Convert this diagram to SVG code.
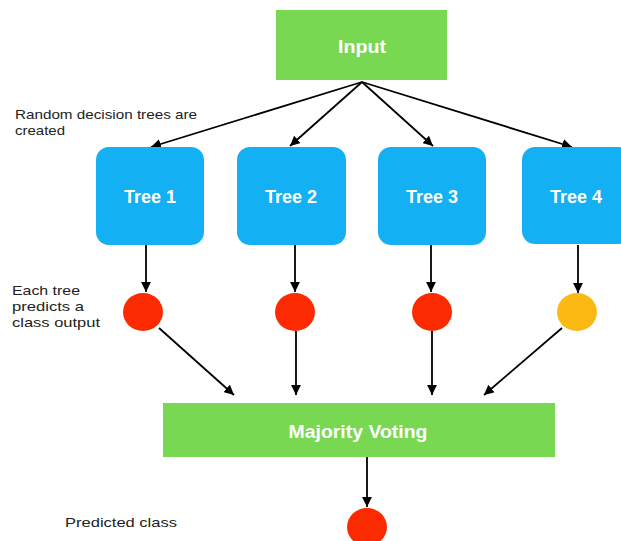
<svg xmlns="http://www.w3.org/2000/svg" width="621" height="541" viewBox="0 0 621 541">
<style>
.green{fill:#78d852}
.blue{fill:#13b0f3}
.red{fill:#fb2a00}
.yellow{fill:#fdb913}
.nt{font-family:"Liberation Sans",Arial,sans-serif;font-weight:bold;fill:#fff;text-anchor:middle}
.lbl{font-family:"Liberation Sans",Arial,sans-serif;font-size:13.5px;fill:#222}
.ln{stroke:#000;stroke-width:1.8;fill:none;marker-end:url(#ah)}
</style>
<defs>
<marker id="ah" viewBox="0 0 10 10" refX="10" refY="5" markerWidth="5.5" markerHeight="5.5" orient="auto" markerUnits="strokeWidth">
<path d="M0,0 L10,5 L0,10 z" fill="#000"/>
</marker>
</defs>
<rect width="621" height="541" fill="#fff"/>
<g id="connectors">
<line class="ln" x1="362" y1="82" x2="151" y2="147"/>
<line class="ln" x1="362" y1="82" x2="290" y2="146"/>
<line class="ln" x1="362" y1="82" x2="433" y2="146"/>
<line class="ln" x1="362" y1="82" x2="572" y2="147"/>
<line class="ln" x1="146" y1="245" x2="146" y2="292"/>
<line class="ln" x1="295" y1="245" x2="295" y2="292"/>
<line class="ln" x1="431" y1="245" x2="431" y2="292"/>
<line class="ln" x1="578" y1="245" x2="578" y2="293"/>
<line class="ln" x1="159" y1="328" x2="234" y2="395"/>
<line class="ln" x1="296" y1="331" x2="296" y2="395"/>
<line class="ln" x1="432" y1="331" x2="432" y2="395"/>
<line class="ln" x1="562" y1="328" x2="484" y2="395"/>
<line class="ln" x1="367" y1="457" x2="367" y2="507"/>
</g>
<g id="input">
<rect class="green" x="276" y="10" width="171" height="70"/>
<text class="nt" x="362" y="53" font-size="18" textLength="48" lengthAdjust="spacingAndGlyphs">Input</text>
</g>
<g id="tree1">
<rect class="blue" x="96" y="147" width="108" height="98" rx="13"/>
<text class="nt" x="150" y="203" font-size="18">Tree 1</text>
</g>
<g id="tree2">
<rect class="blue" x="237" y="147" width="109" height="98" rx="13"/>
<text class="nt" x="291" y="203" font-size="18">Tree 2</text>
</g>
<g id="tree3">
<rect class="blue" x="378" y="147" width="108" height="98" rx="13"/>
<text class="nt" x="432" y="203" font-size="18">Tree 3</text>
</g>
<g id="tree4">
<rect class="blue" x="522" y="147" width="110" height="97" rx="13"/>
<text class="nt" x="576" y="203" font-size="18">Tree 4</text>
</g>
<g id="out1"><ellipse class="red" cx="143" cy="312" rx="20" ry="19"/></g>
<g id="out2"><ellipse class="red" cx="295" cy="312" rx="20" ry="19"/></g>
<g id="out3"><ellipse class="red" cx="432" cy="312" rx="20" ry="19"/></g>
<g id="out4"><ellipse class="yellow" cx="577" cy="312" rx="20" ry="19"/></g>
<g id="majority">
<rect class="green" x="163" y="403" width="392" height="54"/>
<text class="nt" x="358" y="438" font-size="18" textLength="139" lengthAdjust="spacingAndGlyphs">Majority Voting</text>
</g>
<g id="predicted"><ellipse class="red" cx="367" cy="527" rx="20" ry="19"/></g>
<g id="labels">
<text class="lbl" x="15" y="119" textLength="182" lengthAdjust="spacingAndGlyphs">Random decision trees are</text>
<text class="lbl" x="15" y="135" textLength="50" lengthAdjust="spacingAndGlyphs">created</text>
<text class="lbl" x="12" y="295" textLength="68" lengthAdjust="spacingAndGlyphs">Each tree</text>
<text class="lbl" x="12" y="311" textLength="72" lengthAdjust="spacingAndGlyphs">predicts a</text>
<text class="lbl" x="12" y="327" textLength="88" lengthAdjust="spacingAndGlyphs">class output</text>
<text class="lbl" x="65" y="527" textLength="112" lengthAdjust="spacingAndGlyphs">Predicted class</text>
</g>
</svg>
